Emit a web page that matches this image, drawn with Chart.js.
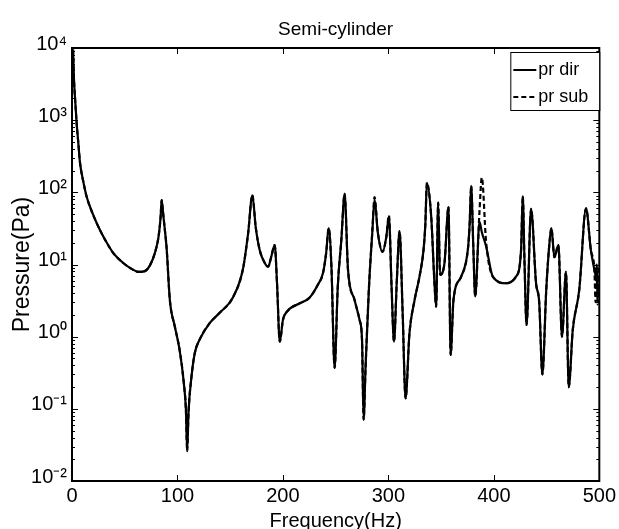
<!DOCTYPE html>
<html>
<head>
<meta charset="utf-8">
<script src="https://cdn.jsdelivr.net/npm/chart.js@4.4.1/dist/chart.umd.min.js"></script>
<style>
  body { margin: 0; background: #fff; }
</style>
</head>
<body>
<canvas id="pressureChart" width="619" height="529"></canvas>
<script>
// Frequency (Hz) samples
const freq = [
  1, 1.9, 2.8, 4.4, 6, 7.6, 10.7, 13.9, 20, 26.5,
  33, 39, 48.6, 56.5, 63, 69, 74, 78.6, 82, 84,
  85, 86.2, 87.5, 89.7, 92.8, 97.5, 102, 106, 108, 109.2,
  110.5, 113.3, 116.5, 121, 130.7, 140, 152.6, 162, 167, 171,
  174.2, 178, 182.8, 186, 189, 192.2, 194.4, 197, 200, 204.8,
  216, 225.4, 233, 238, 241, 243.4, 246, 249, 252, 255.4,
  258.5, 261.7, 268, 272.7, 275, 276.5, 278.4, 281.6, 284.7, 286.9,
  290, 294.5, 298, 300.5, 303, 305.3, 308, 310.6, 313.5, 316.3,
  320, 324.8, 329.5, 333.3, 335, 336.5, 340.6, 343.7, 345.3, 347.2,
  349, 353.2, 357, 359, 361.7, 369, 375.3, 377, 378.5, 380.5,
  382.3, 386.4, 388.6, 392.7, 399, 411.6, 421, 425.8, 427.4, 429,
  431, 435.3, 440, 443, 446, 449.7, 453, 454.6, 457.4, 461.2,
  464.6, 468.4, 471, 474.8, 481, 487.4, 492, 495.3, 496.5, 497.5,
  498.5, 499.5
];

// pressure (Pa), direct solution
const prDir = [
  9500, 3600, 2100, 910, 480, 257, 141, 87, 49, 30,
  20, 14.5, 10.5, 8.7, 7.9, 8.1, 9.8, 14.5, 24, 45,
  78, 55, 36, 17, 3.2, 1.38, 0.66, 0.23, 0.098, 0.026,
  0.09, 0.28, 0.6, 0.91, 1.55, 2.14, 3.5, 8.5, 27, 91,
  33, 15.8, 10.5, 9.3, 12.9, 18.6, 5.5, 0.85, 1.7, 2.3,
  2.9, 3.5, 5.2, 7.6, 14.5, 32, 9.3, 0.37, 4.9, 22,
  95, 8.5, 3.2, 1.7, 0.91, 0.071, 0.39, 4.9, 27, 79,
  27.5, 15, 24, 46, 5, 0.85, 6, 29, 2.2, 0.14,
  1.12, 3.2, 6.8, 15.8, 35, 135, 46, 5.5, 2.6, 72,
  7.2, 10.5, 63, 0.56, 3.2, 6.8, 15.8, 35, 123, 18,
  3.6, 39, 28, 17.8, 6.8, 5.5, 6.8, 15.8, 89, 12,
  1.45, 59, 5.5, 3, 0.3, 4.5, 22, 32, 12.6, 18.6,
  1.0, 7.9, 0.2, 1.23, 4.5, 60, 15.8, 8.5, 7, 6,
  5, 4.2
];

// pressure (Pa), substructure solution
const prSub = [
  9500, 3600, 2100, 910, 480, 257, 141, 87, 49, 30,
  20, 14.5, 10.5, 8.7, 7.9, 8.1, 9.8, 14.5, 24, 45,
  78, 55, 36, 17, 3.2, 1.38, 0.66, 0.23, 0.098, 0.026,
  0.09, 0.28, 0.6, 0.91, 1.55, 2.14, 3.5, 8.5, 27, 91,
  33, 15.8, 10.5, 9.3, 12.9, 18.6, 5.5, 0.85, 1.7, 2.3,
  2.9, 3.5, 5.2, 7.6, 14.5, 32, 9.3, 0.37, 4.9, 22,
  95, 8.5, 3.2, 1.7, 0.91, 0.071, 0.39, 4.9, 28, 86,
  28, 15, 24, 48, 5, 0.85, 6, 29, 2.2, 0.14,
  1.12, 3.2, 6.8, 15.8, 35, 135, 46, 5.5, 2.6, 72,
  7.2, 10.5, 63, 0.56, 3.2, 6.8, 15.8, 35, 123, 18,
  3.6, 55, 160, 20, 6.8, 5.5, 6.8, 15.8, 89, 12,
  1.45, 59, 5.5, 3, 0.3, 4.5, 22, 32, 12.6, 18.6,
  1.0, 7.9, 0.2, 1.23, 4.5, 60, 15.8, 8.5, 3, 10,
  2.8, 9.5
];

const seriesLabels = ['pr dir', 'pr sub'];
const xTicks = [0, 100, 200, 300, 400, 500];
const yTicks = [0.01, 0.1, 1, 10, 100, 1000, 10000];
const yTickLabels = ['10⁻²', '10⁻¹', '10⁰', '10¹', '10²', '10³', '10⁴'];

const FONT = '"Liberation Sans", Arial, Helvetica, sans-serif';

// Box frame, inward tick marks and boxed legend, MATLAB style
const framePlugin = {
    id: 'frame',
    afterDatasetsDraw(chart) {
        const { ctx, chartArea: a, scales: { x, y } } = chart;
        ctx.save();
        ctx.strokeStyle = '#000';
        ctx.lineWidth = 1;
        ctx.beginPath();
        xTicks.forEach(v => {
            const px = Math.round(x.getPixelForValue(v)) + 0.5;
            ctx.moveTo(px, a.bottom); ctx.lineTo(px, a.bottom - 6);
            ctx.moveTo(px, a.top); ctx.lineTo(px, a.top + 6);
        });
        for (let d = -2; d < 4; d++) {
            for (let m = 1; m < 10; m++) {
                const py = Math.round(y.getPixelForValue(m * Math.pow(10, d))) + 0.5;
                const len = m === 1 ? 6 : 3;
                ctx.moveTo(a.left, py); ctx.lineTo(a.left + len, py);
                ctx.moveTo(a.right, py); ctx.lineTo(a.right - len, py);
            }
        }
        ctx.stroke();
        ctx.lineWidth = 2;
        ctx.strokeRect(a.left, a.top, a.right - a.left, a.bottom - a.top);

        // legend box in the upper right corner
        const w = 89, h = 58;
        const left = a.right - w, top = a.top + 4;
        ctx.fillStyle = '#fff';
        ctx.fillRect(left, top, w, h);
        ctx.lineWidth = 1;
        ctx.strokeRect(left + 0.5, top + 0.5, w, h);
        ctx.font = '18px ' + FONT;
        ctx.textBaseline = 'middle';
        ctx.fillStyle = '#000';
        chart.data.datasets.forEach((ds, i) => {
            const ly = top + 18 + i * 27;
            ctx.lineWidth = 2;
            ctx.setLineDash(ds.borderDash || []);
            ctx.beginPath();
            ctx.moveTo(left + 3, ly);
            ctx.lineTo(left + 26, ly);
            ctx.stroke();
            ctx.setLineDash([]);
            ctx.fillText(ds.label, left + 28, ly);
        });
        ctx.restore();
    }
};

const ctx = document.getElementById('pressureChart').getContext('2d');
new Chart(ctx, {
    type: 'line',
    data: {
        datasets: [
            {
                label: seriesLabels[0],
                data: freq.map((f, i) => ({ x: f, y: prDir[i] })),
                borderColor: '#000',
                borderWidth: 2.2,
                pointRadius: 0,
                cubicInterpolationMode: 'monotone'
            },
            {
                label: seriesLabels[1],
                data: freq.map((f, i) => ({ x: f, y: prSub[i] })),
                borderColor: '#000',
                borderWidth: 2.2,
                borderDash: [5, 3],
                pointRadius: 0,
                cubicInterpolationMode: 'monotone'
            }
        ]
    },
    options: {
        responsive: false,
        animation: false,
        layout: { padding: { right: 19 } },
        plugins: {
            legend: { display: false },
            tooltip: { enabled: false },
            title: {
                display: true,
                text: 'Semi-cylinder',
                fullSize: false,
                color: '#000',
                font: { family: FONT, size: 19, weight: 'normal' },
                padding: { top: 18, bottom: 7.2 }
            }
        },
        scales: {
            x: {
                type: 'linear',
                min: 0,
                max: 500,
                afterBuildTicks: s => { s.ticks = xTicks.map(v => ({ value: v })); },
                afterFit: s => { s.height = 48; },
                grid: { display: false, drawTicks: false },
                border: { display: false },
                ticks: { color: '#000', font: { family: FONT, size: 20 }, padding: 3, maxRotation: 0 },
                title: {
                    display: true,
                    text: 'Frequency(Hz)',
                    color: '#000',
                    font: { family: FONT, size: 20 },
                    padding: { top: 0, bottom: -4 }
                }
            },
            y: {
                type: 'logarithmic',
                min: 0.01,
                max: 10000,
                afterBuildTicks: s => { s.ticks = yTicks.map(v => ({ value: v })); },
                afterFit: s => { s.width = 72; },
                grid: { display: false, drawTicks: false },
                border: { display: false },
                ticks: {
                    color: '#000',
                    font: { family: FONT, size: 20 },
                    padding: 5,
                    labelOffset: -4,
                    callback: (v, i) => yTickLabels[i]
                },
                title: {
                    display: true,
                    text: 'Pressure(Pa)',
                    color: '#000',
                    font: { family: FONT, size: 23 },
                    padding: { top: 9, bottom: 0 }
                }
            }
        }
    },
    plugins: [framePlugin]
});
</script>
</body>
</html>
